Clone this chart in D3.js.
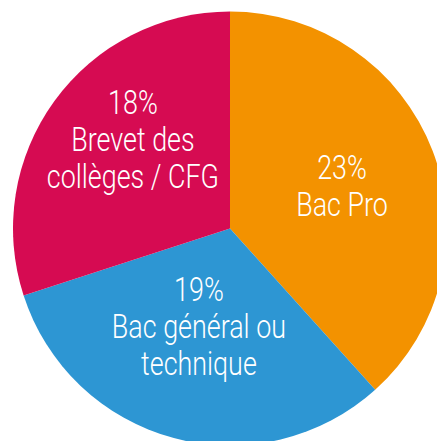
<!DOCTYPE html>
<html>
<head>
<meta charset="utf-8">
<script src="https://cdn.jsdelivr.net/npm/d3@7"></script>
<style>
  body { margin: 0; background: #fff; }
  text { font-family: Roboto, sans-serif; font-weight: 300; fill: #fff; }
</style>
</head>
<body>
<div id="chart"></div>
<script>
// Data
let categories = ["Bac Pro", "Bac général ou technique", "Brevet des collèges / CFG"];
let values = [23, 19, 18];
let labelLines = [
  ["23%", "Bac Pro"],
  ["19%", "Bac général ou", "technique"],
  ["18%", "Brevet des", "collèges / CFG"]
];
let colors = ["#F39200", "#2D96D3", "#D60B52"];

let width = 437;
let height = 441;
let radius = 217;
let cx = 230, cy = 228.5;

let svg = d3
    .select("#chart")
    .append("svg")
    .attr("width", width)
    .attr("height", height);

let g = svg.append("g")
    .attr("transform", "translate(" + cx + "," + cy + ")");

let pie = d3.pie().sort(null).value(function (d) { return d; });
let arcs = pie(values);

let arc = d3.arc().innerRadius(0).outerRadius(radius);
let labelArc = d3.arc().innerRadius(240).outerRadius(0); // centroid at r=120

g.selectAll("path")
  .data(arcs)
  .enter()
  .append("path")
  .attr("d", arc)
  .attr("fill", function (d, i) { return colors[i]; });

let fontSize = 33;
let lineH = 37;

let labels = g.selectAll("g.label")
    .data(arcs)
    .enter()
    .append("g")
    .attr("class", "label")
    .attr("transform", function (d) {
      let c = labelArc.centroid(d);
      return "translate(" + c[0] + "," + c[1] + ") scale(0.815,1)";
    });

// anchor label blocks from their last line
labels.each(function (d, i) {
  let lines = labelLines[i];
  let n = lines.length;
  d3.select(this)
    .selectAll("text")
    .data(lines)
    .enter()
    .append("text")
    .attr("text-anchor", "middle")
    .attr("font-size", fontSize)
    .attr("y", function (t, j) {
      return (j - (n - 1)) * lineH + lineH / 2 + fontSize * 0.36;
    })
    .text(function (t) { return t; });
});
</script>
</body>
</html>
